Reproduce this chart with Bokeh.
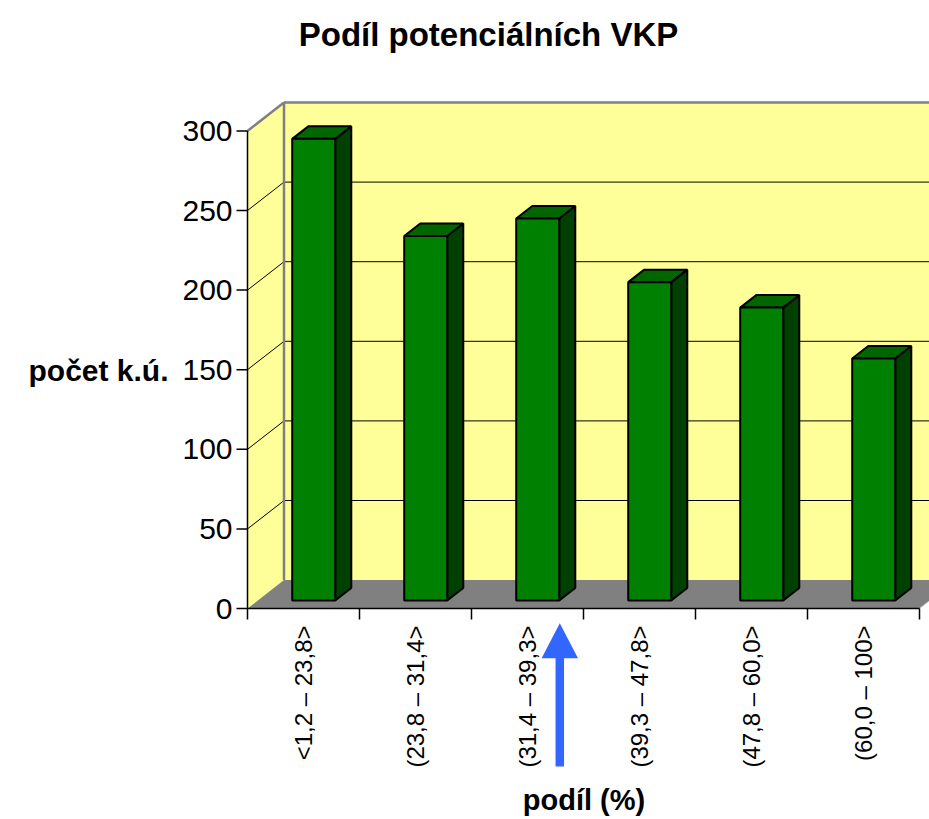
import math
from bokeh.plotting import figure
from bokeh.models import Range1d
from bokeh.core.properties import value
from bokeh.embed import file_html
from bokeh.resources import INLINE

# ---- data ----
categories = ["<1,2 – 23,8>", "(23,8 – 31,4>", "(31,4 – 39,3>",
              "(39,3 – 47,8>", "(47,8 – 60,0>", "(60,0 – 100>"]
counts = [290, 229, 240, 200, 184, 152]
y_ticks = [0, 50, 100, 150, 200, 250, 300]

title_text = "Podíl potenciálních VKP"
y_title = "počet k.ú."
x_title = "podíl (%)"

# ---- layout geometry (pixels of the canvas) ----
W, H = 929, 819
AX_LEFT_PX = 247.0      # front plane left edge / value axis
AX_ZERO_PX = 608.0      # value 0 on the front plane
PX_PER_CAT = 112.0
PX_PER_UNIT = 1.592

X0 = -0.5
sx = 1.0 / PX_PER_CAT
sy = 1.0 / PX_PER_UNIT
x_lo = X0 - AX_LEFT_PX * sx
x_hi = X0 + (W - AX_LEFT_PX) * sx
y_lo = -(H - AX_ZERO_PX) * sy
y_hi = AX_ZERO_PX * sy

n = len(categories)
X1 = X0 + n
YMAX = y_ticks[-1]
DX = 36.5 * sx
DY = 28.4 * sy

FONT = "Liberation Sans"

p = figure(width=W, height=H, x_range=Range1d(x_lo, x_hi), y_range=Range1d(y_lo, y_hi),
           min_border=0, min_border_left=0, min_border_right=0, min_border_top=0,
           min_border_bottom=0, x_axis_location=None, y_axis_location=None,
           output_backend="svg", toolbar_location=None)
p.xgrid.visible = False
p.ygrid.visible = False
p.outline_line_color = None
p.background_fill_color = "white"
p.border_fill_color = "white"

WALL = "#FFFF99"
FLOOR = "#808080"
EDGE = "#808080"

# side (left) wall and back wall
p.patch([X0, X0 + DX, X0 + DX, X0], [0, DY, YMAX + DY, YMAX],
        fill_color=WALL, line_color=None)
p.quad(left=[X0 + DX], right=[x_hi + 1], bottom=[DY], top=[YMAX + DY],
       fill_color=WALL, line_color=None)

# gridlines (back wall + side wall)
grid_vals = [v for v in y_ticks if 0 < v < YMAX]
m = len(grid_vals)
p.segment(x0=[X0 + DX] * m, y0=[v + DY for v in grid_vals],
          x1=[x_hi + 1] * m, y1=[v + DY for v in grid_vals],
          line_color="black", line_width=1)
p.segment(x0=[X0] * m, y0=grid_vals, x1=[X0 + DX] * m, y1=[v + DY for v in grid_vals],
          line_color="black", line_width=1)

# floor
p.patch([X0, X1, X1 + DX, X0 + DX], [0, 0, DY, DY], fill_color=FLOOR, line_color=None)
p.segment(x0=[X1], y0=[0], x1=[X1 + DX], y1=[DY], line_color="#C8C8C8", line_width=1)

# wall edges
p.segment(x0=[X0, X0 + DX, X0 + DX], y0=[YMAX, YMAX + DY, DY],
          x1=[X0 + DX, x_hi + 1, X0 + DX], y1=[YMAX + DY, YMAX + DY, YMAX + DY],
          line_color=EDGE, line_width=2.5)

# bars (front / top / side faces)
F0, F1 = 0.28, 0.72
HW = 0.192
centers = list(range(n))
fl = [c - HW + F0 * DX for c in centers]
fr = [c + HW + F0 * DX for c in centers]
br = [c + HW + F1 * DX for c in centers]
bl = [c - HW + F1 * DX for c in centers]
top_xs = [[fl[i], fr[i], br[i], bl[i]] for i in range(n)]
top_ys = [[counts[i] + F0 * DY, counts[i] + F0 * DY,
           counts[i] + F1 * DY, counts[i] + F1 * DY] for i in range(n)]
side_xs = [[fr[i], br[i], br[i], fr[i]] for i in range(n)]
side_ys = [[F0 * DY, F1 * DY, counts[i] + F1 * DY, counts[i] + F0 * DY] for i in range(n)]

p.patches(side_xs, side_ys, fill_color="#004000", line_color="black", line_width=2)
p.patches(top_xs, top_ys, fill_color="#006600", line_color="black", line_width=2)
p.quad(left=fl, right=fr, bottom=[F0 * DY] * n, top=[v + F0 * DY for v in counts],
       fill_color="#008000", line_color="black", line_width=2)

# ---- value axis ----
TICK = 11
p.segment(x0=[X0], y0=[0], x1=[X0], y1=[YMAX], line_color="black", line_width=1.5)
p.segment(x0=[X0 - TICK * sx] * len(y_ticks), y0=y_ticks,
          x1=[X0] * len(y_ticks), y1=y_ticks, line_color="black", line_width=1.5)
p.text(x=[X0 - (TICK + 4) * sx] * len(y_ticks), y=y_ticks, text=[str(v) for v in y_ticks],
       text_align="right", text_baseline="middle", text_font=value(FONT),
       text_font_size=value("30px"), text_color="black")

# ---- category axis ----
bounds = [X0 + k for k in range(n + 1)]
p.segment(x0=[X0], y0=[0], x1=[X1], y1=[0], line_color="black", line_width=1.5)
p.segment(x0=bounds, y0=[0] * len(bounds), x1=bounds, y1=[-TICK * sy] * len(bounds),
          line_color="black", line_width=1.5)
p.text(x=centers, y=[-17 * sy] * n, text=categories, angle=math.pi / 2,
       text_align="right", text_baseline="middle", text_font=value(FONT),
       text_font_size=value("24px"), text_color="black")

# ---- titles ----
def px2x(px):
    return X0 + (px - AX_LEFT_PX) * sx


def py2y(py):
    return (AX_ZERO_PX - py) * sy


p.text(x=[px2x(488)], y=[py2y(34)], text=[title_text], text_align="center",
       text_baseline="middle", text_font=value(FONT), text_font_size=value("33px"),
       text_font_style="bold", text_color="black")
p.text(x=[px2x(28)], y=[py2y(370)], text=[y_title], text_align="left",
       text_baseline="middle", text_font=value(FONT), text_font_size=value("30px"),
       text_font_style="bold", text_color="black")
p.text(x=[px2x(583.5)], y=[py2y(799)], text=[x_title], text_align="center",
       text_baseline="middle", text_font=value(FONT), text_font_size=value("29px"),
       text_font_style="bold", text_color="black")

# ---- blue pointer arrow ----
ARROW = "#3366FF"
ax = px2x(559.3)
p.quad(left=[ax - 4.25 * sx], right=[ax + 4.25 * sx], bottom=[py2y(766)], top=[py2y(656)],
       fill_color=ARROW, line_color=None)
p.patch([ax - 18.2 * sx, ax + 18.2 * sx, ax], [py2y(657.7), py2y(657.7), py2y(622.7)],
        fill_color=ARROW, line_color=None)

open("out.html", "w").write(file_html(p, INLINE))
